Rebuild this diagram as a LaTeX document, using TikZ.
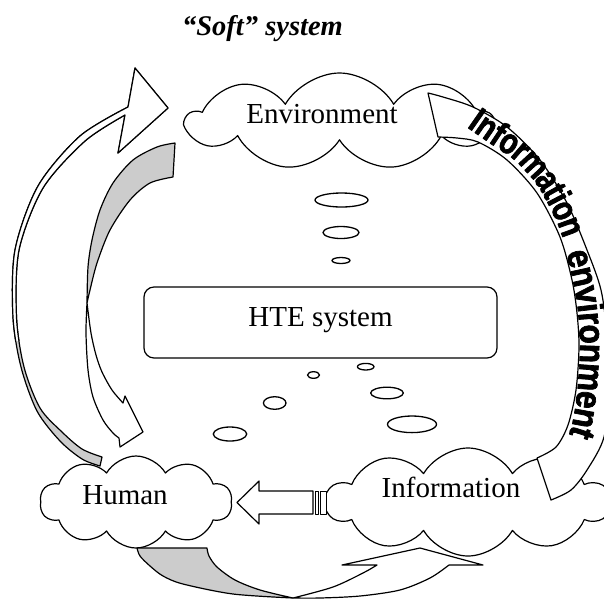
\documentclass[tikz,border=0pt]{standalone}
\usepackage{fontspec}
\setmainfont{Liberation Serif}
\newfontfamily\arcfontA[FakeStretch=0.8,FakeBold=2]{Liberation Sans Bold}
\newfontfamily\arcfontB[FakeStretch=0.88,FakeBold=2]{Liberation Sans Bold}
\usetikzlibrary{shapes.symbols,shapes.geometric,decorations.text}
\begin{document}
\begin{tikzpicture}[x=1pt,y=-1pt,
  line width=1.2pt, line join=round,
  cloudshape/.style={cloud, cloud puff arc=120, cloud ignores aspect, draw, fill=white, inner sep=0pt},
  lbl/.style={font=\fontsize{29}{34}\selectfont, inner sep=0pt, anchor=base},
  bubble/.style={ellipse, draw, line width=1.3pt, inner sep=0pt},
  back/.style={fill=black!20, draw},
  front/.style={fill=white, draw}]
\useasboundingbox (0,0) rectangle (604,598);

% title
\node[inner sep=0pt, anchor=base, font=\fontsize{28.5}{34}\selectfont\bfseries\itshape] (title) at (262.5,35) {“Soft” system};

% clouds
\node[cloudshape, cloud puffs=9, minimum width=305pt, minimum height=97pt] (envc) at (339.5,121.5) {};
\node[lbl] (envt) at (322,123) {Environment};
\node[cloudshape, cloud puffs=10, minimum width=192pt, minimum height=92pt] (humc) at (136,502) {};
\node[lbl] (humt) at (125,504) {Human};
\node[cloudshape, cloud puffs=10, minimum width=284pt, minimum height=108pt] (infc) at (468,502) {};
\node[lbl] (inft) at (451,497) {Information};

% HTE box
\node[draw, rounded corners=10pt, minimum width=353pt, minimum height=71pt, inner sep=0pt] (hte) at (320.5,322.5) {};
\node[lbl] (htet) at (320.5,326.7) {HTE system};

% bubbles
\node[bubble, minimum width=53pt, minimum height=14pt] (b1) at (341.5,200) {};
\node[bubble, minimum width=36pt, minimum height=12pt] (b2) at (341,232.5) {};
\node[bubble, minimum width=18pt, minimum height=6pt] (b3) at (341,260.5) {};
\node[bubble, minimum width=12pt, minimum height=6.6pt] (b4) at (313.5,375) {};
\node[bubble, minimum width=16.6pt, minimum height=6.6pt] (b5) at (365.7,366.7) {};
\node[bubble, minimum width=22.6pt, minimum height=12.6pt] (b6) at (274.7,403) {};
\node[bubble, minimum width=32.6pt, minimum height=11.6pt] (b7) at (387,393) {};
\node[bubble, minimum width=33.4pt, minimum height=14pt] (b8) at (230,434) {};
\node[bubble, minimum width=49pt, minimum height=16.6pt] (b9) at (412,424.3) {};

% left outer arrow (head at top): gray lower part, white upper part
\draw[back] plot[smooth] coordinates {(100,466) (82,459) (60,441) (37,411) (21,367) (13,317) (15,250) (38,186) (80,136) (128,107)}
  -- (135,68) -- (168,108) -- (118,153) -- (125,115)
  -- plot[smooth] coordinates {(125,115) (85,141) (43,188) (19,250) (16.5,317) (24,367) (40,408) (62,432) (82,449) (102,457)} -- cycle;
\begin{scope}
\clip (0,0) rectangle (200,340);
\draw[front] plot[smooth] coordinates {(100,466) (82,459) (60,441) (37,411) (21,367) (13,317) (15,250) (38,186) (80,136) (128,107)}
  -- (135,68) -- (168,108) -- (118,153) -- (125,115)
  -- plot[smooth] coordinates {(125,115) (85,141) (43,188) (19,250) (16.5,317) (24,367) (40,408) (62,432) (82,449) (102,457)} -- cycle;
\end{scope}

% left inner arrow: gray top part, white lower part with head
\draw[back] (175,143) -- (173,177)
  -- plot[smooth] coordinates {(173,177) (150,183) (130,200) (110,230) (97,263) (90,290) (87,303)}
  -- plot[smooth] coordinates {(87,303) (88,267) (92,240) (100,210) (113,183) (133,160) (157,147) (175,143)} -- cycle;
\draw[front] plot[smooth] coordinates {(87,303) (86,333) (88,370) (93,397) (103,420) (113,433) (119,438)}
  -- (120,447) -- (143,432) -- (125,396) -- (123,403)
  -- plot[smooth] coordinates {(123,403) (112,390) (102,372) (96,355) (91,333) (87,303)} -- cycle;

% bottom arrow
\draw[back] (137,548) -- (207,548)
  -- plot[smooth] coordinates {(207,548) (209,556) (217,567) (235,580) (260,590) (293,598)}
  -- plot[smooth] coordinates {(293,598) (233,594) (183,584) (163,576) (150,566) (140,556) (137,548)} -- cycle;
\draw[front] plot[smooth] coordinates {(293,598) (333,587) (363,573) (377,565)}
  -- (342,565) -- (420,548) -- (483,565) -- (449,565)
  -- plot[smooth] coordinates {(449,565) (430,578) (400,590) (360,596) (320,598) (293,598)} -- cycle;

% striped arrow
\draw[front] (237,502.5) -- (259,481) -- (259,491) -- (313,491) -- (313,514) -- (259,514) -- (259,524) -- cycle;
\draw[front, line width=1pt] (315,491) rectangle (318.5,514);
\draw[front, line width=1pt] (320.5,491) rectangle (326.5,514);

% right band
\draw[front] (428,93) -- plot[smooth] coordinates {(428,93) (443,97) (473,107) (507,127) (540,160) (567,203) (587,250) (601,290) (607,335) (609,385) (604,437) (587,470) (571,490) (551,500)}
  -- (537,458)
  -- plot[smooth] coordinates {(537,458) (556,447) (568,425) (576,390) (579,347) (577,313) (572,280) (560,237) (537,193) (507,160) (478,142) (457,138) (438,137)} -- cycle;
\path[decorate, decoration={text along path, raise=-11pt,
  text={|\arcfontA\fontsize{36}{36}\selectfont|Information}}]
  plot[smooth] coordinates {(473,118) (496,134) (522,152) (547,180) (568,220) (582,265) (589,310) (591,350)};
\path[decorate, decoration={text along path, raise=-11pt,
  text={|\arcfontB\fontsize{36}{36}\selectfont|environment}}]
  plot[smooth] coordinates {(577,250) (584,280) (589,310) (591,350) (588,395) (582,430) (570,458) (550,482) (525,497)};
\end{tikzpicture}
\end{document}
